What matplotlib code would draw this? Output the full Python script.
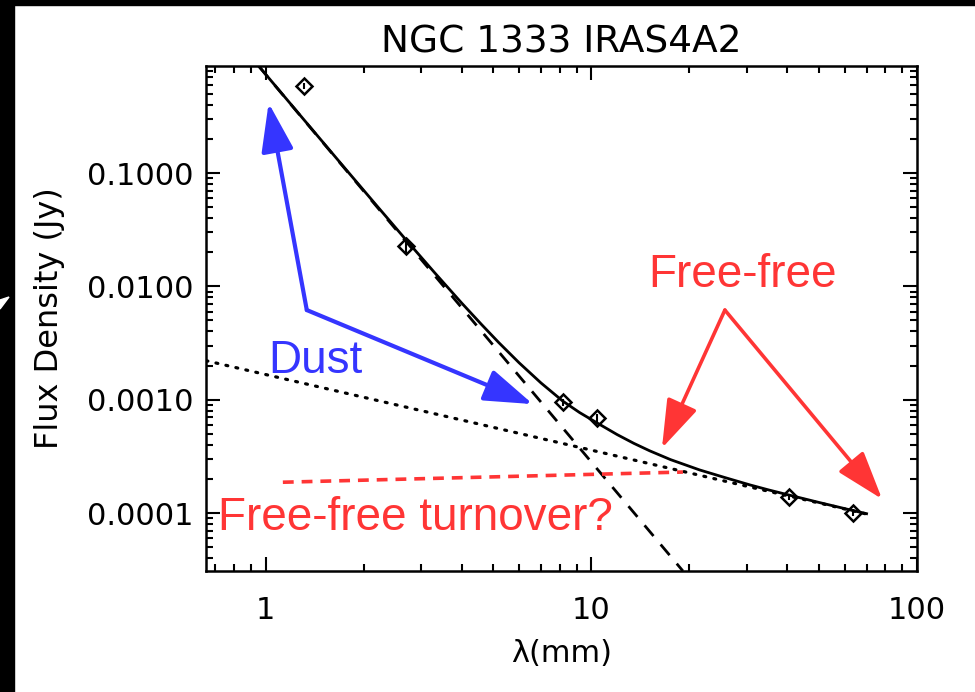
import numpy as np
import matplotlib.pyplot as plt
from matplotlib.patches import Rectangle, Polygon
from matplotlib.ticker import LogLocator, NullFormatter, FuncFormatter

# measured fluxes
wavelength_mm = [1.31, 2.69, 8.16, 10.4, 40.5, 63.7]
flux_jy = [0.586, 0.0228, 0.000946, 0.000692, 0.000139, 0.000101]
flux_err = [0.04, 0.003, 0.00006, 0.00005, 0.000008, 0.000007]

# total model
model_x = [0.95, 1.3, 1.7, 2.2, 2.7, 3.3, 4.0, 4.6, 5.2, 6.0, 7.0, 8.16, 9.2, 10.4,
           12.0, 13.5, 15.1, 17.5, 21.5, 25.5, 30.7, 35.0, 40.5, 50.0, 63.7, 70.0]
model_y = [0.882, 0.3026, 0.1215, 0.0508, 0.02557, 0.0132, 0.0071, 0.0046, 0.00318,
           0.002114, 0.001406, 0.000974, 0.00077, 0.000625, 0.000492, 0.000412,
           0.000354, 0.000296, 0.00024, 0.000207, 0.000177, 0.00016, 0.000144,
           0.000124, 0.000105, 0.0000987]

# dust and free-free components (straight in log-log)
dust_x = [0.95, 19.1]
dust_y = [0.88, 3.08e-5]
ff_x = [0.655, 70.0]
ff_y = [0.00221, 9.8e-5]

# hand-drawn turnover line
turnover_x = [1.128, 19.1]
turnover_y = [0.000187, 0.00023]

blue = '#3535ff'
red = '#ff3535'

fig = plt.figure(figsize=(9.75, 6.92), dpi=100, facecolor='white')

# black screenshot border
fig.add_artist(Rectangle((0, 1 - 5/692), 1, 5/692, transform=fig.transFigure, color='black', zorder=0))
fig.add_artist(Rectangle((0, 0), 14/975, 1, transform=fig.transFigure, color='black', zorder=0))
fig.add_artist(Polygon([(0, 1 - 309/692), (9/975, 1 - 297/692), (0, 1 - 300/692)],
                       closed=True, transform=fig.transFigure, color='white', zorder=1))

ax = fig.add_axes([206/975, (692-571)/692, 711/975, 505/692])
ax.set_xscale('log')
ax.set_yscale('log')
ax.set_xlim(0.655, 100)
ax.set_ylim(3.08e-5, 0.88)

ax.plot(model_x, model_y, color='black', lw=2.0, zorder=3)
ax.plot(dust_x, dust_y, color='black', lw=2.0, ls=(0, (5, 4)), zorder=2)
ax.plot(ff_x, ff_y, color='black', lw=2.3, ls=(0, (0.6, 2.6)), dash_capstyle='round', zorder=2)
ax.errorbar(wavelength_mm, flux_jy, yerr=flux_err, fmt='D', ms=8, mfc='none', mec='black',
            mew=1.8, ecolor='black', elinewidth=1.5, capsize=0, zorder=4)

ax.plot(turnover_x, turnover_y, color=red, lw=2.6, ls=(0, (3, 2.2)), zorder=5)

# annotations
arrow_kw = dict(arrowstyle='-|>,head_length=1.5,head_width=0.5', mutation_scale=20,
                shrinkA=0, shrinkB=0)
for tip in [(1.02, 0.415), (6.61, 0.000914)]:
    ax.annotate('', xy=tip, xytext=(1.336, 0.00618), xycoords='data',
                arrowprops=dict(color=blue, lw=3, **arrow_kw), zorder=6)
for tip in [(16.47, 0.000374), (78.1, 0.000133)]:
    ax.annotate('', xy=tip, xytext=(25.7, 0.00618), xycoords='data',
                arrowprops=dict(color=red, lw=2.6, **arrow_kw), zorder=6, annotation_clip=False)

ax.text(1.014, 0.00172, 'Dust', color=blue, fontsize=33, family='Liberation Sans', zorder=7)
ax.text(14.92, 0.00986, 'Free-free', color=red, fontsize=33, family='Liberation Sans', zorder=7)
ax.text(0.712, 7.06e-5, 'Free-free turnover?', color=red, fontsize=33, family='Liberation Sans',
        zorder=7)

# axes styling
ax.set_xticks([1, 10, 100])
ax.xaxis.set_major_formatter(FuncFormatter(lambda v, p: '%d' % v))
ax.set_yticks([1e-4, 1e-3, 1e-2, 1e-1])
ax.yaxis.set_major_formatter(FuncFormatter(lambda v, p: '%.4f' % v))
ax.xaxis.set_minor_locator(LogLocator(base=10, subs=np.arange(2, 10)))
ax.yaxis.set_minor_locator(LogLocator(base=10, subs=np.arange(2, 10)))
ax.xaxis.set_minor_formatter(NullFormatter())
ax.yaxis.set_minor_formatter(NullFormatter())
ax.tick_params(which='both', direction='in', top=True, right=True, width=1.5, colors='black')
ax.tick_params(which='major', length=10)
ax.tick_params(which='minor', length=5)
ax.tick_params(axis='x', which='major', pad=18, labelsize=22)
ax.tick_params(axis='y', which='major', pad=9, labelsize=22)
for s in ax.spines.values():
    s.set_linewidth(1.8)

ax.set_title('NGC 1333 IRAS4A2', fontsize=27, pad=10)
ax.set_xlabel('λ(mm)', fontsize=22, labelpad=10)
ax.set_ylabel('Flux Density (Jy)', fontsize=23, labelpad=16)

fig.savefig('out.png', dpi=100, facecolor='white')
